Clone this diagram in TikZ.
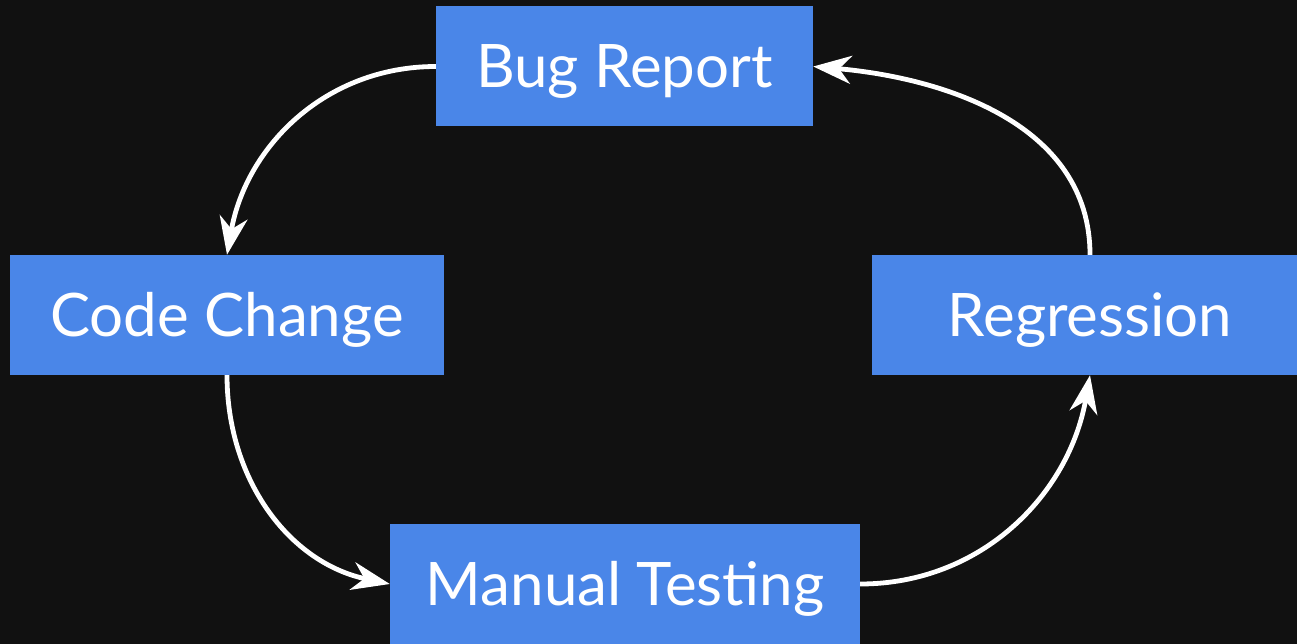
\documentclass[tikz,border=0pt]{standalone}
\usepackage{fontspec}
\setmainfont{Lato}
\usetikzlibrary{arrows.meta}
\definecolor{bg}{HTML}{111111}
\definecolor{boxblue}{HTML}{4A86E8}
\begin{document}
\begin{tikzpicture}[x=1pt,y=-1pt,
  stagebox/.style={fill=boxblue, text=white, inner sep=0pt, minimum height=120pt,
    text height=43pt, text depth=0pt,
    font=\fontsize{60}{70}\selectfont, anchor=center},
  flow/.style={draw=white, line width=4.8pt,
    -{Stealth[length=38pt,width=28pt,inset=12pt]}}]
\useasboundingbox (0,0) rectangle (1297,644);
\fill[bg] (0,0) rectangle (1297,644);
\begin{scope}
\clip (0,0) rectangle (1297,644);
\node[stagebox, minimum width=377pt] (br) at (624.5,66.5) {Bug Report};
\node[stagebox, minimum width=434pt] (cc) at (227,315) {Code Change};
\node[stagebox, minimum width=436pt] (rg) at (1090,315) {Regression};
\node[stagebox, minimum width=470pt] (mt) at (625,584) {Manual Testing};
\end{scope}
\draw[flow] (br.west) to[out=180,in=80] (cc.north);
\draw[flow] (cc.south) to[out=-90,in=168] (mt.west);
\draw[flow] (mt.east) to[out=0,in=-100] (rg.south);
\draw[flow] (rg.north) to[out=90,in=-5] (br.east);
\end{tikzpicture}
\end{document}
